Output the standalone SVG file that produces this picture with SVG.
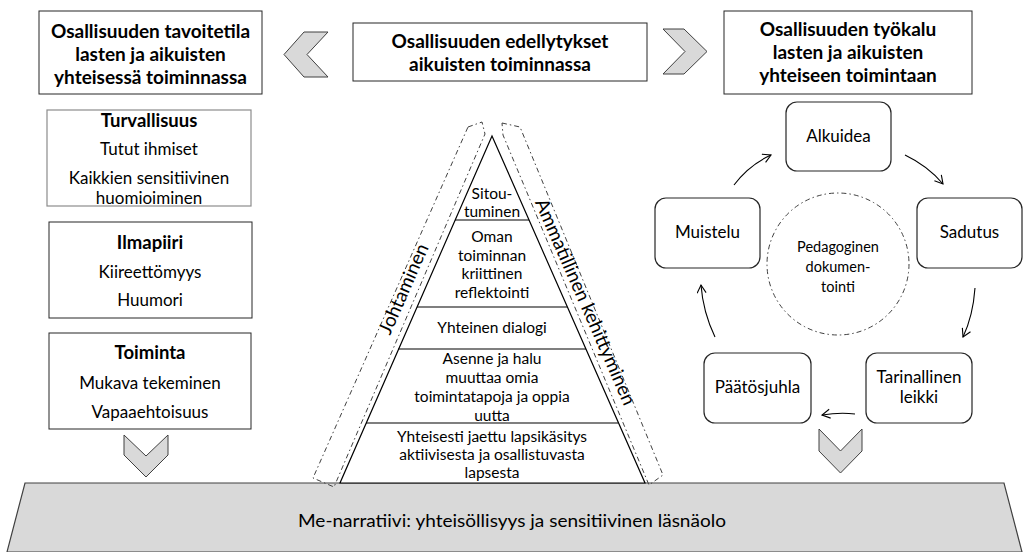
<svg xmlns="http://www.w3.org/2000/svg" width="1024" height="552" viewBox="0 0 1024 552">
<style>
text{font-family:Lato,"Liberation Sans",sans-serif;fill:#000;text-anchor:middle}
.h{font-weight:bold;font-size:19px}
.b{font-weight:bold;font-size:18.5px}
.r{font-size:17px}
.p{font-size:15.5px}
.s{font-size:14.5px}
.rot{font-size:19px}
.box{fill:#fff;stroke:#262626;stroke-width:1}
.lbox{fill:#fff;stroke:#8c8c8c;stroke-width:1.2}
.rbox{fill:#fff;stroke:#262626;stroke-width:1.2}
.chev{fill:#d9d9d9;stroke:#404040;stroke-width:1}
.dd{fill:none;stroke:#404040;stroke-width:1;stroke-dasharray:5 3 1.5 3}
.arr{fill:none;stroke:#000;stroke-width:1.1;marker-end:url(#ah)}
.ln{fill:none;stroke:#000;stroke-width:1.2}
</style>
<defs>
<marker id="ah" markerUnits="userSpaceOnUse" markerWidth="12" markerHeight="12" refX="9" refY="5" orient="auto">
<path d="M1,0.5 L9,5 L1,9.5" fill="none" stroke="#000" stroke-width="1.1"/>
</marker>
</defs>
<rect width="1024" height="552" fill="#fff"/>

<g id="base">
<polygon points="25,483 1004,483 1022,552 7,552" fill="#d9d9d9" stroke="#404040" stroke-width="1.2"/>
<text x="512" y="527" style="font-size:17.5px" textLength="428" lengthAdjust="spacingAndGlyphs">Me-narratiivi: yhteisöllisyys ja sensitiivinen läsnäolo</text>
</g>

<g id="box-tavoitetila">
<rect class="box" x="39" y="11" width="223" height="83"/>
<text class="h" x="150.5" y="38">Osallisuuden tavoitetila</text>
<text class="h" x="150.5" y="61">lasten ja aikuisten</text>
<text class="h" x="150.5" y="84">yhteisessä toiminnassa</text>
</g>
<g id="box-edellytykset">
<rect class="box" x="353" y="23" width="294" height="58"/>
<text class="h" x="500" y="48">Osallisuuden edellytykset</text>
<text class="h" x="500" y="71">aikuisten toiminnassa</text>
</g>
<g id="box-tyokalu">
<rect class="box" x="724" y="11" width="248" height="83"/>
<text class="h" x="848" y="36">Osallisuuden työkalu</text>
<text class="h" x="848" y="59">lasten ja aikuisten</text>
<text class="h" x="848" y="82">yhteiseen toimintaan</text>
</g>

<g id="turvallisuus">
<rect class="lbox" x="47" y="110" width="204" height="96"/>
<text class="b" x="149" y="127">Turvallisuus</text>
<text class="r" x="149" y="155">Tutut ihmiset</text>
<text class="r" x="149" y="184">Kaikkien sensitiivinen</text>
<text class="r" x="149" y="204">huomioiminen</text>
</g>
<g id="ilmapiiri">
<rect class="box" x="49" y="222" width="203" height="96"/>
<text class="b" x="150" y="249">Ilmapiiri</text>
<text class="r" x="150" y="278">Kiireettömyys</text>
<text class="r" x="150" y="306">Huumori</text>
</g>
<g id="toiminta">
<rect class="box" x="49" y="333" width="202" height="96"/>
<text class="b" x="150" y="359">Toiminta</text>
<text class="r" x="150" y="389">Mukava tekeminen</text>
<text class="r" x="150" y="418">Vapaaehtoisuus</text>
</g>

<g id="johtaminen">
<polygon class="dd" points="468,127 482,122 485,134 334,487 313,478"/>
<text class="rot" transform="translate(404,289) rotate(-66.3)" y="6">Johtaminen</text>
</g>
<g id="ammatillinen-kehittyminen">
<polygon class="dd" points="502,123 520,127 663,475 649,485 503,135"/>
<text class="rot" transform="translate(585,302) rotate(66.3)" y="6">Ammatillinen kehittyminen</text>
</g>

<g id="pyramid">
<polygon points="492,136 645,483 340,483" fill="#fff" stroke="#000" stroke-width="1.2"/>
<line class="ln" x1="455" y1="220" x2="529" y2="220"/>
<line class="ln" x1="417" y1="307" x2="567" y2="307"/>
<line class="ln" x1="398" y1="349" x2="586" y2="349"/>
<line class="ln" x1="366" y1="423" x2="618" y2="423"/>
<text class="p" x="492" y="199">Sitou-</text>
<text class="p" x="492" y="217">tuminen</text>
<text class="p" x="492" y="242">Oman</text>
<text class="p" x="492" y="261">toiminnan</text>
<text class="p" x="492" y="279">kriittinen</text>
<text class="p" x="492" y="298">reflektointi</text>
<text class="p" x="492" y="333">Yhteinen dialogi</text>
<text class="p" x="492" y="364">Asenne ja halu</text>
<text class="p" x="492" y="383">muuttaa omia</text>
<text class="p" x="492" y="402">toimintatapoja ja oppia</text>
<text class="p" x="492" y="421">uutta</text>
<text class="p" x="492" y="442">Yhteisesti jaettu lapsikäsitys</text>
<text class="p" x="492" y="460">aktiivisesta ja osallistuvasta</text>
<text class="p" x="492" y="478">lapsesta</text>
</g>

<g id="dokumentointi">
<circle class="dd" cx="838" cy="264" r="71"/>
<text class="s" x="838" y="252">Pedagoginen</text>
<text class="s" x="838" y="272">dokumen-</text>
<text class="s" x="838" y="292">tointi</text>
</g>
<g id="alkuidea">
<rect class="rbox" x="786" y="102" width="105" height="69" rx="11"/>
<text class="r" x="838.5" y="142">Alkuidea</text>
</g>
<g id="sadutus">
<rect class="rbox" x="917" y="198" width="105" height="70" rx="11"/>
<text class="r" x="969.5" y="238">Sadutus</text>
</g>
<g id="tarinallinen-leikki">
<rect class="rbox" x="866" y="353" width="106" height="70" rx="11"/>
<text class="r" x="919" y="383">Tarinallinen</text>
<text class="r" x="919" y="403">leikki</text>
</g>
<g id="paatosjuhla">
<rect class="rbox" x="704" y="353" width="107" height="70" rx="11"/>
<text class="r" x="757.5" y="393">Päätösjuhla</text>
</g>
<g id="muistelu">
<rect class="rbox" x="655" y="198" width="105" height="70" rx="11"/>
<text class="r" x="707.5" y="238">Muistelu</text>
</g>

<g id="connectors">
<polygon class="chev" points="284,54.5 304,32 328,32 307,54.5 328,77 304,77"/>
<polygon class="chev" points="663,29 684,29 707,51.5 684,74 663,74 685,51.5"/>
<polygon class="chev" points="124,435 146,456 168,435 168,455 146,477 124,455"/>
<polygon class="chev" points="819,429 840.5,451 862,429 862,451 840.5,473 819,451"/>
<path class="arr" d="M734,185 Q749,165 771,155"/>
<path class="arr" d="M905,155 Q928,166 943,184"/>
<path class="arr" d="M975,288 Q973,316 963,337"/>
<path class="arr" d="M855,414 Q840,412 822,415"/>
<path class="arr" d="M715,337 Q703,312 701,285"/>
</g>
</svg>
